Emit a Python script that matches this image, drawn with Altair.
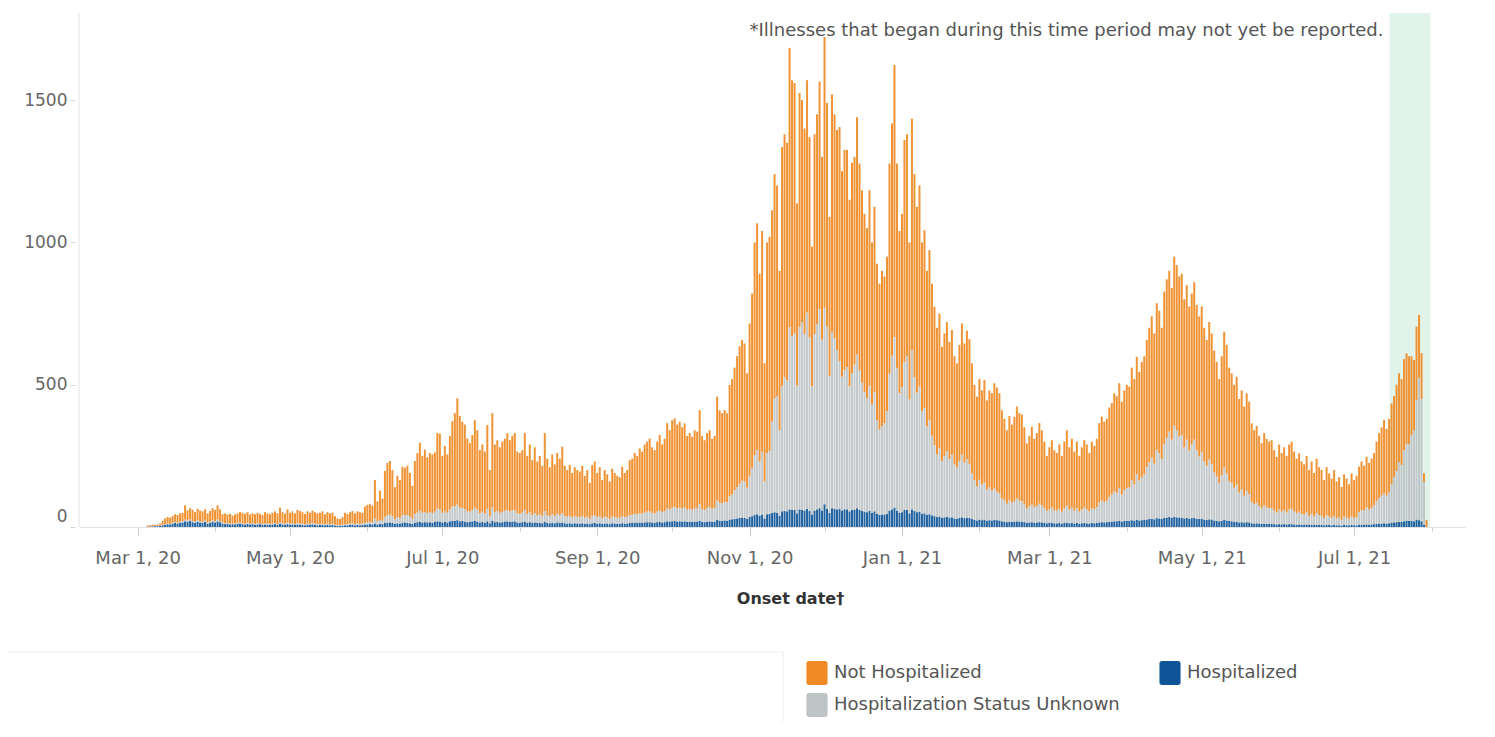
import altair as alt
import pandas as pd

FONT = "DejaVu Sans"

# ---------------- data ----------------
start_date = "2020-03-05"   # first onset date with cases (daily bars)

total_cases = [
    5, 6, 8, 7, 9, 12, 22,
    30, 35, 33, 38, 45, 42, 48,
    50, 76, 58, 66, 60, 52, 64,
    58, 55, 62, 48, 56, 66, 60,
    76, 62, 45, 48, 44, 46, 40,
    44, 48, 53, 50, 46, 52, 44,
    48, 45, 50, 46, 42, 52, 48,
    45, 50, 55, 48, 68, 52, 47,
    62, 50, 55, 48, 60, 56, 52,
    46, 55, 50, 58, 52, 48, 50,
    55, 45, 52, 48, 50, 38, 30,
    28, 35, 50, 45, 52, 56, 48,
    55, 52, 50, 72, 78, 80, 75,
    165, 90, 128, 100, 197, 225, 232,
    200, 140, 180, 165, 212, 208, 215,
    190, 145, 232, 260, 296, 250, 272,
    245, 260, 255, 262, 330, 328, 250,
    285, 255, 320, 372, 400, 452, 390,
    370, 360, 310, 295, 323, 375, 340,
    270, 290, 265, 358, 200, 400, 290,
    305, 280, 300, 310, 330, 305, 320,
    330, 265, 260, 270, 330, 250, 290,
    235, 280, 230, 250, 215, 330, 240,
    210, 255, 220, 260, 240, 282, 215,
    200, 218, 190, 210, 200, 195, 215,
    180, 200, 155, 218, 230, 190, 210,
    165, 200, 185, 160, 205, 190, 180,
    175, 212, 190, 200, 235, 240, 260,
    250, 276, 265, 290, 300, 311, 280,
    270, 300, 323, 290, 310, 365, 340,
    375, 382, 360, 370, 350, 364, 320,
    330, 317, 340, 335, 411, 320, 305,
    330, 340, 310, 320, 458, 410, 400,
    411, 400, 499, 520, 560, 600, 635,
    657, 645, 540, 715, 820, 1000, 1067,
    890, 1040, 575, 1000, 1020, 1113, 1240,
    1200, 900, 1335, 1380, 1350, 1683, 1570,
    1560, 1137, 1525, 1500, 1400, 1570, 1370,
    985, 1380, 1450, 1565, 1300, 1722, 1490,
    1090, 1520, 1450, 1395, 1405, 1250, 1325,
    1325, 1150, 1280, 1300, 1440, 1277, 1183,
    1100, 1050, 1183, 1000, 1125, 925, 855, 900,
    880, 950, 1277, 1418, 1623, 1277, 1040,
    1100, 1360, 1380, 1000, 1435, 1240, 1125,
    1200, 1000, 1043, 900, 973, 855, 774,
    700, 750, 633, 680, 720, 650, 692,
    600, 575, 640, 715, 645, 690, 660,
    575, 500, 458, 520, 480, 516, 445,
    480, 470, 505, 490, 470, 410, 380,
    340, 390, 360, 387, 423, 400, 395,
    350, 294, 320, 352, 310, 330, 365,
    340, 300, 250, 280, 305, 270, 260,
    290, 250, 300, 340, 280, 310, 265,
    300, 250, 280, 305, 290, 260, 300,
    285, 310, 365, 388, 370, 380, 420,
    435, 470, 460, 505, 440, 480, 500,
    493, 560, 520, 598, 545, 580, 600,
    657, 700, 740, 680, 786, 760, 700,
    827, 870, 900, 840, 950, 920, 880,
    890, 800, 850, 775, 820, 860, 780,
    740, 775, 700, 657, 720, 680, 620,
    580, 520, 600, 686, 640, 560, 540,
    500, 528, 450, 480, 423, 470, 440,
    364, 340, 355, 320, 294, 330, 310,
    300, 305, 270, 247, 290, 260, 280,
    250, 290, 300, 265, 240, 259, 230,
    220, 250, 200, 230, 190, 240, 210,
    200, 165, 210, 188, 170, 200, 160,
    175, 141, 185, 170, 150, 188, 165, 180,
    212, 230, 215, 247, 225, 240, 260,
    300, 330, 350, 376, 345, 380, 434,
    460, 500, 540, 520, 590, 610, 600,
    600, 587, 704, 745, 611, 189, 25,
]

hospitalized = [
    1, 2, 2, 3, 3, 4, 6,
    8, 10, 9, 12, 14, 12, 15,
    16, 20, 18, 22, 17, 15, 19,
    16, 14, 18, 12, 15, 18, 16,
    20, 17, 12, 10, 11, 9, 10,
    9, 11, 12, 10, 8, 11, 9,
    10, 8, 9, 10, 7, 9, 8,
    8, 9, 10, 7, 12, 9, 8,
    10, 8, 9, 7, 9, 8, 7,
    6, 8, 7, 9, 8, 6, 7,
    7, 6, 8, 6, 7, 5, 4,
    4, 5, 6, 6, 7, 8, 6,
    7, 6, 7, 8, 9, 10, 9,
    12, 9, 11, 10, 14, 15, 16,
    14, 11, 13, 12, 15, 16, 14,
    13, 11, 15, 17, 18, 16, 17,
    16, 17, 15, 18, 20, 19, 16,
    18, 16, 20, 22, 21, 24, 20,
    21, 19, 17, 18, 20, 22, 19,
    16, 18, 15, 20, 13, 21, 17,
    18, 16, 17, 19, 20, 18, 19,
    20, 16, 15, 17, 19, 15, 17,
    14, 16, 14, 15, 13, 18, 14,
    13, 15, 13, 16, 14, 16, 13,
    12, 13, 11, 13, 12, 12, 13,
    11, 12, 10, 13, 14, 12, 13,
    11, 12, 12, 10, 13, 12, 11,
    11, 13, 12, 12, 14, 14, 15,
    14, 16, 15, 16, 17, 17, 16,
    15, 17, 18, 16, 17, 20, 19,
    20, 21, 19, 20, 19, 20, 18,
    19, 18, 19, 19, 22, 18, 17,
    19, 20, 18, 19, 25, 22, 22,
    23, 22, 26, 27, 29, 30, 32,
    33, 32, 28, 35, 38, 42, 45,
    40, 44, 30, 45, 46, 50, 52,
    50, 40, 55, 56, 55, 62, 60,
    60, 48, 62, 60, 58, 64, 56,
    44, 58, 62, 66, 58, 80, 64,
    50, 66, 64, 62, 63, 58, 62,
    62, 55, 60, 61, 66, 60, 57,
    54, 52, 57, 50, 55, 46, 43, 44,
    44, 46, 58, 62, 68, 58, 50,
    52, 60, 60, 48, 62, 56, 52,
    54, 47, 48, 43, 45, 41, 38,
    35, 37, 32, 34, 36, 33, 34,
    30, 29, 32, 34, 31, 33, 32,
    28, 25, 23, 26, 24, 26, 22,
    24, 23, 25, 24, 23, 20, 19,
    17, 19, 18, 19, 20, 19, 19,
    17, 15, 16, 17, 15, 16, 17,
    16, 15, 13, 14, 15, 13, 13,
    14, 12, 14, 15, 13, 14, 12,
    14, 12, 13, 14, 13, 12, 14,
    13, 14, 16, 17, 16, 17, 18,
    19, 20, 20, 22, 19, 21, 22,
    21, 24, 22, 25, 23, 24, 25,
    26, 28, 29, 27, 31, 30, 28,
    32, 33, 35, 32, 36, 34, 33,
    33, 30, 32, 29, 31, 32, 29,
    28, 29, 26, 25, 27, 26, 23,
    22, 20, 22, 25, 23, 21, 20,
    18, 19, 16, 17, 15, 17, 16,
    13, 12, 13, 12, 11, 12, 11,
    11, 11, 10, 9, 10, 9, 10,
    9, 10, 10, 9, 8, 9, 8,
    8, 9, 7, 8, 7, 8, 7,
    7, 6, 7, 7, 6, 7, 6,
    6, 5, 7, 6, 6, 7, 6, 6,
    8, 8, 8, 9, 8, 9, 10,
    11, 12, 12, 13, 12, 13, 15,
    16, 17, 18, 18, 20, 22, 21,
    22, 20, 26, 24, 20, 8, 0,
]

status_unknown = [
    0, 0, 1, 0, 1, 1, 2,
    2, 3, 2, 3, 4, 3, 4,
    4, 6, 5, 5, 4, 4, 5,
    4, 4, 5, 3, 4, 5, 4,
    6, 4, 3, 3, 3, 3, 2,
    3, 3, 4, 3, 3, 4, 3,
    3, 3, 4, 3, 3, 4, 3,
    3, 4, 4, 3, 5, 4, 3,
    5, 4, 4, 3, 5, 4, 4,
    3, 4, 4, 5, 4, 4, 4,
    4, 4, 4, 4, 4, 3, 3,
    3, 3, 4, 4, 5, 5, 4,
    5, 5, 5, 7, 8, 8, 8,
    18, 10, 14, 12, 22, 26, 28,
    24, 16, 22, 20, 26, 26, 28,
    24, 18, 30, 34, 40, 34, 36,
    33, 36, 34, 36, 45, 44, 34,
    38, 34, 42, 50, 52, 55, 48,
    46, 44, 38, 36, 40, 46, 42,
    33, 36, 32, 44, 25, 48, 36,
    38, 34, 36, 38, 40, 37, 39,
    40, 32, 31, 33, 40, 30, 35,
    28, 33, 27, 30, 26, 38, 28,
    25, 30, 26, 31, 28, 33, 26,
    24, 26, 23, 25, 24, 23, 26,
    22, 24, 19, 26, 28, 23, 25,
    20, 24, 22, 19, 24, 23, 22,
    21, 25, 23, 24, 28, 29, 31,
    30, 33, 32, 35, 37, 38, 34,
    33, 37, 40, 36, 39, 46, 43,
    48, 50, 47, 48, 46, 48, 43,
    45, 43, 47, 47, 58, 45, 43,
    48, 50, 46, 48, 70, 63, 62,
    66, 65, 82, 88, 100, 110, 120,
    130, 128, 110, 145, 170, 210, 225,
    190, 220, 130, 215, 220, 320, 400,
    410, 300, 440, 470, 460, 640, 610,
    620, 450, 640, 660, 620, 690, 610,
    450, 620, 650, 700, 600, 690, 640,
    480, 620, 600, 560, 520, 470, 490,
    500, 440, 480, 510, 540, 490, 450,
    420, 400, 440, 380, 420, 330, 300, 310,
    320, 360, 480, 540, 600, 500, 420,
    440, 520, 540, 400, 560, 470, 420,
    440, 360, 370, 310, 330, 280, 250,
    220, 240, 200, 215, 230, 205, 220,
    190, 180, 200, 220, 195, 205, 190,
    160, 140, 120, 140, 125, 130, 110,
    115, 105, 110, 100, 95, 80, 75,
    65, 75, 68, 72, 80, 74, 72,
    62, 50, 56, 62, 55, 58, 65,
    60, 52, 44, 48, 54, 46, 45,
    50, 42, 52, 60, 48, 54, 45,
    52, 42, 48, 54, 50, 44, 52,
    50, 56, 70, 78, 72, 76, 88,
    95, 105, 100, 115, 95, 108, 115,
    118, 140, 128, 160, 140, 150, 160,
    185, 200, 215, 195, 240, 230, 210,
    260, 280, 300, 275, 320, 305, 285,
    290, 250, 275, 240, 260, 275, 240,
    220, 235, 205, 190, 210, 195, 170,
    155, 135, 160, 185, 165, 140, 135,
    120, 130, 105, 115, 95, 110, 100,
    75, 68, 72, 62, 55, 64, 58,
    55, 56, 48, 42, 52, 45, 50,
    42, 52, 54, 46, 40, 45, 38,
    36, 42, 32, 38, 30, 40, 34,
    32, 25, 34, 30, 26, 32, 24,
    28, 20, 30, 27, 23, 30, 26, 28,
    45, 52, 50, 60, 54, 58, 66,
    80, 90, 98, 106, 98, 110, 135,
    160, 180, 210, 200, 250, 270, 270,
    300, 320, 420, 500, 430, 150, 0,
]

statuses = ["Not Hospitalized", "Hospitalized", "Hospitalization Status Unknown"]
status_colors = ["#EF8A24", "#0E5597", "#BEC3C6"]
stack_rank = {"Hospitalized": 0, "Hospitalization Status Unknown": 1, "Not Hospitalized": 2}

note_text = "*Illnesses that began during this time period may not yet be reported."
band_start = ["2021-07-15T04:00:00Z"]
band_end = ["2021-07-31T12:00:00Z"]

# ---------------- build table ----------------
assert len(total_cases) == len(hospitalized) == len(status_unknown), (
    len(total_cases), len(hospitalized), len(status_unknown))

dates = pd.date_range(start_date, periods=len(total_cases), freq="D")
rows = []
for d, t, h, u in zip(dates, total_cases, hospitalized, status_unknown):
    ds = d.strftime("%Y-%m-%d")
    for s, v in (("Hospitalized", h), ("Hospitalization Status Unknown", u),
                 ("Not Hospitalized", t - h - u)):
        rows.append({"date": ds, "status": s, "cases": v, "rank": stack_rank[s]})
df = pd.DataFrame(rows)

band_df = pd.DataFrame({"date": band_start, "date_end": band_end, "note": [note_text]})

# ---------------- layout ----------------
W, H = 1386, 514
base = pd.Timestamp("2020-03-01", tz="UTC")
x_lo = int((base - pd.Timedelta(days=21.46)).timestamp() * 1000)
x_hi = int((base + pd.Timedelta(days=529.4)).timestamp() * 1000)
month_ticks = [int(t.timestamp() * 1000)
               for t in pd.date_range("2020-03-01", "2021-08-01", freq="MS", tz="UTC")]

xscale = alt.Scale(type="utc", domain=[x_lo, x_hi])
yscale = alt.Scale(domain=[0, 1806], nice=False)

x_axis = alt.Axis(
    values=month_ticks,
    labelExpr="utcmonth(datum.value) % 2 == 0 ? utcFormat(datum.value, '%b %-d, %y') : ''",
    tickSize={"condition": {"test": "utcmonth(datum.value) % 2 == 0", "value": 9}, "value": 4},
    tickColor="#cccccc",
    domainColor="#e2e2e2",
    labelColor="#666666",
    labelFont=FONT,
    labelFontSize=18,
    labelPadding=13,
    labelFlush=False,
    labelOverlap=False,
    grid=False,
    title="Onset date†",
    titleFont=FONT,
    titleFontSize=16,
    titleFontWeight="bold",
    titleColor="#333333",
    titleX=711,
    titleY=71,
    titleBaseline="middle",
    titleAlign="center",
)

y_axis = alt.Axis(
    values=[0, 500, 1000, 1500],
    format="d",
    domain=False,
    offset=4,
    tickSize=5,
    tickColor="#d5d5d5",
    labelPadding=3,
    labelColor="#666666",
    labelFont=FONT,
    labelFontSize=17,
    labelOffset={"condition": {"test": "datum.value == 0", "value": -11}, "value": 0},
    grid=False,
    title=None,
)

# rounded rectangle swatch, drawn in Vega's [-1, 1] symbol box
legend_shape = ("M-0.66,-1H0.66Q0.88,-1 0.88,-0.78V0.78Q0.88,1 0.66,1"
                "H-0.66Q-0.88,1 -0.88,0.78V-0.78Q-0.88,-1 -0.66,-1Z")

legend = alt.Legend(
    orient="none",
    legendX=726,
    legendY=648,
    direction="horizontal",
    columns=2,
    columnPadding=38,
    rowPadding=8,
    symbolType=legend_shape,
    symbolSize=576,
    symbolStrokeWidth=0,
    symbolOpacity=1,
    labelFont=FONT,
    labelFontSize=18,
    labelColor="#555555",
    labelOffset=5,
    labelLimit=400,
    padding=0,
    title=None,
)

band = alt.Chart(band_df).mark_rect(color="#E2F3EA").encode(
    x=alt.X("date:T", scale=xscale, axis=x_axis),
    x2="date_end:T",
    y=alt.value(0),
    y2=alt.value(H),
)

note = alt.Chart(band_df).mark_text(
    align="right", baseline="middle", dx=-6, font=FONT, fontSize=18, color="#555555"
).encode(
    x=alt.X("date:T", scale=xscale),
    y=alt.value(18),
    text="note:N",
)

bars = alt.Chart(df).mark_bar(width=2.0, opacity=0.92).encode(
    x=alt.X("date:T", scale=xscale, axis=x_axis),
    y=alt.Y("cases:Q", scale=yscale, axis=y_axis, stack="zero"),
    color=alt.Color("status:N", scale=alt.Scale(domain=statuses, range=status_colors),
                    legend=legend),
    order=alt.Order("rank:Q", sort="ascending"),
)

one = alt.Data(values=[{}])
left_border = alt.Chart(one).mark_rule(color="#e2e2e2", strokeWidth=1).encode(
    x=alt.value(0), y=alt.value(0), y2=alt.value(H)
)
sep_h = alt.Chart(one).mark_rule(color="#efefef", strokeWidth=1).encode(
    x=alt.value(-80), x2=alt.value(704), y=alt.value(639)
)
sep_v = alt.Chart(one).mark_rule(color="#efefef", strokeWidth=1).encode(
    x=alt.value(704), y=alt.value(639), y2=alt.value(730)
)

chart = alt.layer(band, bars, note, left_border, sep_h, sep_v).properties(
    width=W,
    height=H,
    autosize=alt.AutoSizeParams(type="none"),
    padding={"left": 71, "top": 5, "right": 22, "bottom": 195},
).configure_view(strokeWidth=0)

chart.save("out.html", embed_options={"renderer": "svg", "actions": False})
